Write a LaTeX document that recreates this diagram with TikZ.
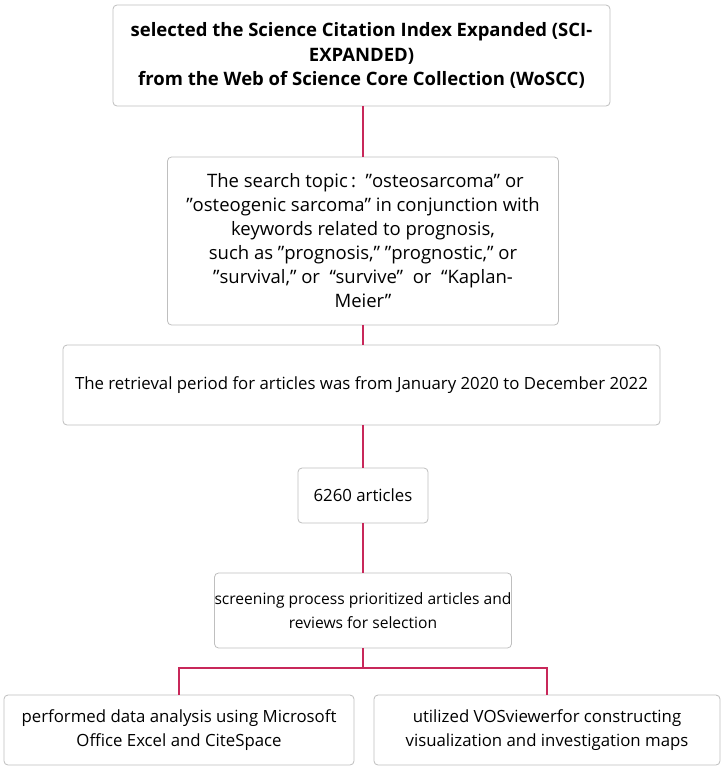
\documentclass[tikz,border=0pt]{standalone}
\usepackage{fontspec}
\defaultfontfeatures{}
\setmainfont[Ligatures=NoCommon]{Open Sans}
\begin{document}
\begin{tikzpicture}[x=1pt,y=-1pt,
  bx/.style={draw=black!25,line width=0.8pt,rounded corners=4pt,fill=white,align=center,inner sep=0pt,font=\fontsize{16.8}{24}\selectfont},
  ln/.style={draw={rgb,255:red,200;green,40;blue,90},line width=1.3pt}]
\useasboundingbox (0,0) rectangle (724,772);
\node[bx,minimum width=497,minimum height=101,font=\bfseries\fontsize{18.5}{24.5}\selectfont] (a) at (361.5,55.5) {selected the Science Citation Index Expanded (SCI-\\EXPANDED)\\from the Web of Science Core Collection (WoSCC)};
\node[bx,minimum width=391,minimum height=168,font=\fontsize{18.5}{24}\selectfont] (b) at (363,241) {\ The search topic\,:\ \ "osteosarcoma" or\\"osteogenic sarcoma" in conjunction with\\keywords related to prognosis,\\such as "prognosis," "prognostic," or\\"survival," or\ \ “survive”\ \ or\ \ “Kaplan-\\Meier”};
\node[bx,minimum width=597,minimum height=80] (c) at (361.5,385) {The retrieval period for articles was from January 2020 to December 2022};
\node[bx,minimum width=130,minimum height=55] (d) at (363,495.5) {6260 articles};
\node[bx,minimum width=290,minimum height=75,font=\fontsize{15.6}{24}\selectfont] (e) at (363,610.5) {screening process prioritized articles and\\reviews for selection};
\node[bx,minimum width=350,minimum height=70] (f) at (179,730) {performed data analysis using Microsoft\\Office Excel and CiteSpace};
\node[bx,minimum width=346,minimum height=70] (g) at (547,730) {utilized VOSviewerfor constructing\\visualization and investigation maps};
\coordinate (j) at (363,668);
\draw[ln] (a.south -| b.north) -- (b.north);
\draw[ln] (b.south) -- (b.south |- c.north);
\draw[ln] (c.south -| d.north) -- (d.north);
\draw[ln] (d.south) -- (e.north);
\draw[ln] (e.south) -- (j);
\draw[ln] (f.north) |- (j) -| (g.north);
\end{tikzpicture}
\end{document}
